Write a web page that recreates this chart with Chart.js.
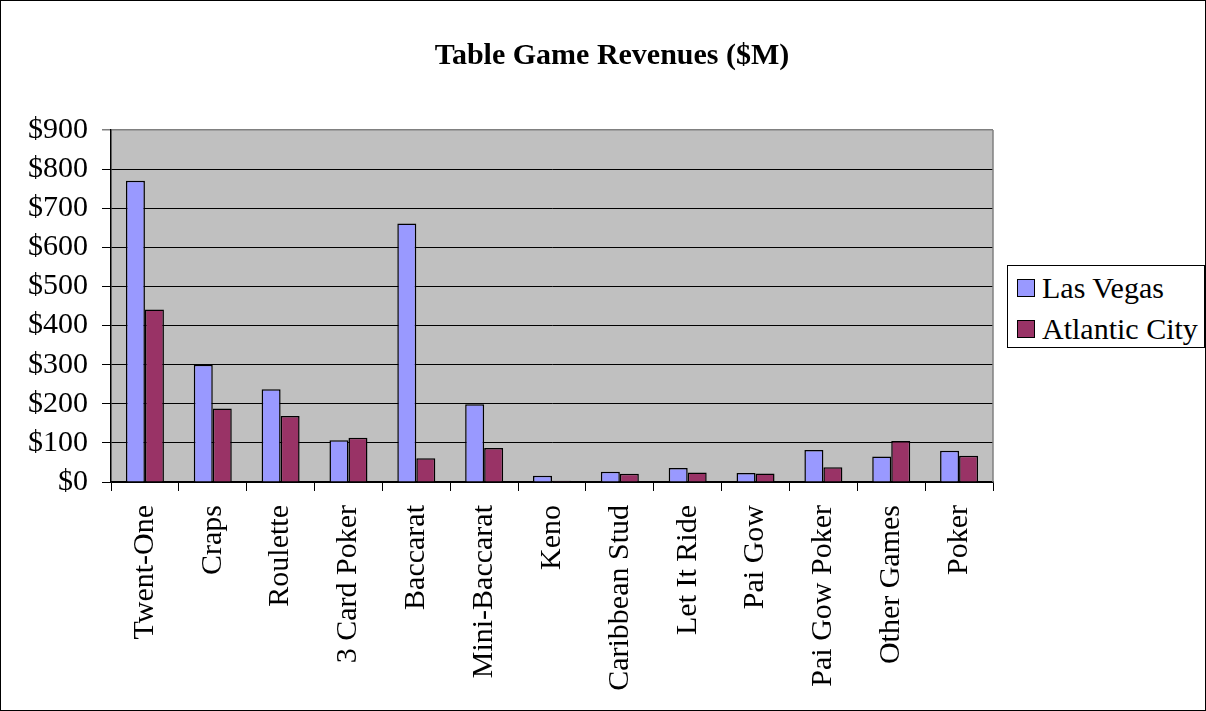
<!DOCTYPE html>
<html>
<head>
<meta charset="utf-8">
<script src="https://cdn.jsdelivr.net/npm/chart.js@4/dist/chart.umd.min.js"></script>
<style>
  html, body { margin: 0; padding: 0; background: #fff; }
  #wrap { position: relative; width: 1206px; height: 711px; }
  #legend {
    position: absolute; left: 1007px; top: 265px; width: 196px; height: 81px;
    border: 1px solid #000; background: #fff;
    font-family: "Liberation Serif", "Times New Roman", serif; font-size: 30px; color: #000;
  }
  #legend .row { position: absolute; left: 9px; height: 34px; line-height: 34px; white-space: nowrap; }
  #legend .sw { position: absolute; left: 0; top: 8px; width: 16px; height: 16px; border: 1px solid #000; }
  #legend .lbl { position: absolute; left: 25px; top: 0; }
</style>
</head>
<body>
<div id="wrap">
  <canvas id="chart" width="1206" height="711"></canvas>
  <div id="legend"></div>
</div>
<script>
// values, $M
const categories = ["Twent-One", "Craps", "Roulette", "3 Card Poker", "Baccarat", "Mini-Baccarat",
  "Keno", "Caribbean Stud", "Let It Ride", "Pai Gow", "Pai Gow Poker", "Other Games", "Poker"]
const lasVegas = [770, 300, 237, 107, 661, 199, 16, 26, 36, 23, 82, 65, 80]
const atlanticCity = [441, 188, 169, 113, 61, 87, 3, 21, 24, 22, 38, 105, 67]
const seriesNames = ["Las Vegas", "Atlantic City"]
const seriesColors = ["#9999FF", "#993366"]

const serif = '"Liberation Serif", "Times New Roman", serif'

// grey plot background + frame round the whole picture
const frame = {
  id: 'frame',
  beforeDraw(chart) {
    const {ctx, chartArea: a} = chart
    ctx.save()
    ctx.fillStyle = '#C0C0C0'
    ctx.fillRect(a.left, a.top, a.right - a.left, a.bottom - a.top)
    ctx.restore()
  },
  afterDraw(chart) {
    const {ctx, chartArea: a} = chart
    ctx.save()
    ctx.strokeStyle = '#808080'
    ctx.lineWidth = 1.5
    ctx.beginPath()
    ctx.moveTo(a.right, a.top)
    ctx.lineTo(a.right, a.bottom)
    ctx.stroke()
    ctx.strokeStyle = '#000'
    ctx.lineWidth = 1
    ctx.strokeRect(0.5, 0.5, chart.width - 1, chart.height - 1)
    ctx.restore()
  }
}

const ctx = document.getElementById('chart').getContext('2d')
const chart = new Chart(ctx, {
  type: 'bar',
  data: {
    labels: categories,
    datasets: [
      { label: seriesNames[0], data: lasVegas, backgroundColor: seriesColors[0], borderColor: '#000', borderWidth: 1.5 },
      { label: seriesNames[1], data: atlanticCity, backgroundColor: seriesColors[1], borderColor: '#000', borderWidth: 1.5 }
    ]
  },
  options: {
    responsive: false,
    animation: false,
    devicePixelRatio: 1,
    layout: { padding: { top: 0, left: 18, right: 0, bottom: 0 } },
    datasets: { bar: { categoryPercentage: 0.56, barPercentage: 1.0 } },
    plugins: {
      legend: { display: false },
      tooltip: { enabled: false },
      title: {
        display: true,
        text: 'Table Game Revenues ($M)',
        color: '#000',
        font: { family: serif, size: 30, weight: 'bold' },
        padding: { top: 38, bottom: 56 }
      }
    },
    scales: {
      x: {
        grid: { drawOnChartArea: false, drawTicks: true, tickLength: 9, color: '#000', offset: true },
        border: { color: '#000', width: 1.5 },
        ticks: {
          color: '#000', font: { family: serif, size: 30 },
          minRotation: 90, maxRotation: 90, autoSkip: false, padding: 14
        },
        afterFit(scale) { scale.height = 229 }
      },
      y: {
        min: 0, max: 900,
        grid: {
          color: ctx => ctx.tick && ctx.tick.value === 900 ? '#808080' : '#000',
          lineWidth: ctx => ctx.tick && ctx.tick.value === 900 ? 1.5 : 1,
          tickLength: 9
        },
        border: { color: '#000', width: 1.5 },
        ticks: {
          stepSize: 100, color: '#000', padding: 14,
          font: { family: serif, size: 30 },
          callback: v => '$' + v
        },
        afterFit(scale) { scale.width = 93 }
      },
      // empty axis on the right, only keeps room for the legend box
      room: {
        type: 'linear', position: 'right', min: 0, max: 900,
        grid: { display: false }, border: { display: false },
        ticks: { display: false },
        afterFit(scale) { scale.width = 213 }
      }
    }
  },
  plugins: [frame]
})

// legend box on the right
const legend = document.getElementById('legend')
seriesNames.forEach((name, i) => {
  const row = document.createElement('div')
  row.className = 'row'
  row.style.top = (5 + i * 41) + 'px'
  row.innerHTML = '<span class="sw" style="background:' + seriesColors[i] + '"></span><span class="lbl">' + name + '</span>'
  legend.appendChild(row)
})
</script>
</body>
</html>
